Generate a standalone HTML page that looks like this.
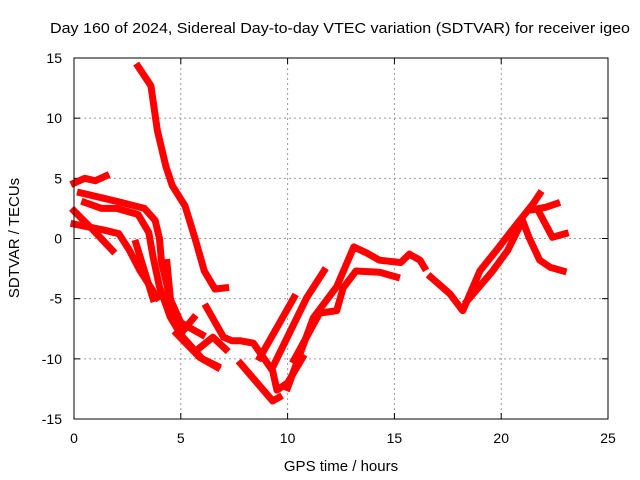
<!DOCTYPE html>
<html><head><meta charset="utf-8"><style>
body{margin:0;background:#fff;}
svg{display:block;font-family:"Liberation Sans",sans-serif;}
</style></head><body>
<svg id="chart" width="640" height="480">
<rect width="640" height="480" fill="#fff"/>
<text x="340" y="33" text-anchor="middle" font-size="15" textLength="580" lengthAdjust="spacingAndGlyphs">Day 160 of 2024, Sidereal Day-to-day VTEC variation (SDTVAR) for receiver igeo</text>
<text x="341" y="471" text-anchor="middle" font-size="15">GPS time / hours</text>
<text transform="translate(19,238) rotate(-90)" text-anchor="middle" font-size="15">SDTVAR / TECUs</text>
<g id="grid"></g><g id="ticks"></g><g id="series"></g>
<rect x="74" y="58" width="534" height="361" fill="none" stroke="#000" stroke-width="1"/>
</svg>
<script>
const xTicks=[0,5,10,15,20,25];
const yTicks=[15,10,5,0,-5,-10,-15];
const sA=[[3.0,14.3],[3.6,12.7],[3.9,9],[4.3,6],[4.6,4.4],[5.2,2.7],[5.7,-0.2],[6.1,-2.7],[6.6,-4.2],[7.1,-4.1]];
const sB=[[0,4.6],[0.5,5],[1,4.8],[1.5,5.2]];
const sC=[[0.3,3.8],[1.5,3.3],[2.2,3],[3.3,2.5],[3.8,1.5],[4.0,0],[4.1,-2],[4.5,-5],[5.0,-7],[5.5,-7.5],[6.0,-8]];
const sD=[[0.5,3],[1.3,2.5],[2.0,2.5],[3.0,2],[3.5,0.5],[3.7,-1.5],[4.0,-4],[4.5,-6.5],[5,-8],[5.5,-9],[6,-10],[6.7,-10.6]];
const sE=[[0,1.2],[1.4,0.7],[2.1,0.4],[2.6,-1],[3.1,-2.7],[3.9,-4.9]];
const sF=[[0,2.3],[0.9,0.7],[1.8,-1]];
const sG=[[2.9,-0.4],[3.7,-5]];
const sH=[[4.35,-2],[4.6,-6.6],[5,-7.9],[5.6,-6.6]];
const sI=[[6.2,-5.7],[7,-8.2],[7.4,-8.5],[7.8,-8.5],[8.4,-8.7],[9.3,-11],[9.5,-12.6],[10,-12],[10.7,-9.9]];
const sJ=[[4.8,-7.9],[5.9,-9.9],[6.7,-10.7]];
const sK=[[5.8,-9.2],[6.5,-8.2],[7.1,-9.2]];
const sL=[[7.8,-10.4],[9.3,-13.5],[9.6,-13.2]];
const sM=[[8.7,-9.9],[10.3,-4.9]];
const sN=[[9.3,-10.7],[10.9,-4.9],[11.7,-2.7]];
const sO=[[10,-12.4],[11.2,-6.6],[12.3,-4],[13.1,-0.7],[13.7,-1.2],[14.3,-1.8],[15.3,-2],[15.7,-1.3],[16.2,-1.8],[16.4,-2.4]];
const sP=[[10.3,-10.1],[11.5,-6.2],[12.3,-6],[12.6,-4.1],[13.2,-2.7],[14.3,-2.8],[15.1,-3.2]];
const sQ=[[16.7,-3.2],[17.6,-4.6],[18.2,-6],[19,-2.7],[19.9,-0.7],[20.6,0.9],[21.5,2.9],[21.8,3.7]];
const sR=[[18.4,-5.2],[19.6,-2.7],[20.3,-1],[21,1.5],[21.3,0.1],[21.8,-1.8],[22.3,-2.4],[22.9,-2.7]];
const sS=[[21.8,2.1],[22.4,0.1],[23,0.4]];
const sT=[[21.5,2.4],[22.1,2.6],[22.6,2.9]];
const allSeries=[sA,sB,sC,sD,sE,sF,sG,sH,sI,sJ,sK,sL,sM,sN,sO,sP,sQ,sR,sS,sT];
const NS="http://www.w3.org/2000/svg";
const xs=t=>74+t*534/25;
const ys=v=>238.5-v*361/30;
const grid=document.getElementById('grid'),ticks=document.getElementById('ticks'),ser=document.getElementById('series');
function mk(tag,attrs,parent){const e=document.createElementNS(NS,tag);for(const k in attrs)e.setAttribute(k,attrs[k]);parent.appendChild(e);return e;}
xTicks.forEach(t=>{const x=xs(t);
 if(t>0&&t<25){const g=mk('line',{x1:x,x2:x,y1:58,y2:419,stroke:'#999','stroke-dasharray':'2,3'},grid);
 
 }
 mk('line',{x1:x,x2:x,y1:419,y2:413,stroke:'#000'},ticks);mk('line',{x1:x,x2:x,y1:58,y2:64,stroke:'#000'},ticks);
 const l=mk('text',{x:x,y:443,'text-anchor':'middle','font-size':'14'},ticks);l.textContent=t;
 
 });
yTicks.forEach(v=>{const y=ys(v);
 if(v<15&&v>-15){const g=mk('line',{x1:74,x2:608,y1:y,y2:y,stroke:'#999','stroke-dasharray':'2,3'},grid);
 
 }
 mk('line',{x1:74,x2:80,y1:y,y2:y,stroke:'#000'},ticks);mk('line',{x1:608,x2:602,y1:y,y2:y,stroke:'#000'},ticks);
 const l=mk('text',{x:62,y:y+5,'text-anchor':'end','font-size':'14'},ticks);l.textContent=v;
 
 });
allSeries.forEach((s,i)=>{const p=mk('polyline',{points:s.map(d=>xs(d[0])+','+ys(d[1])).join(' '),fill:'none',stroke:'#f00','stroke-width':'7','stroke-linejoin':'round','stroke-linecap':'square'},ser);
 
 });
</script>
</body></html>
